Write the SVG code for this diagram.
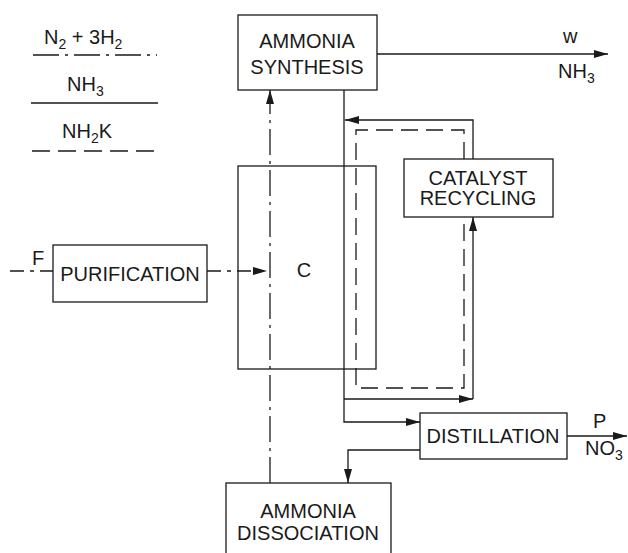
<svg xmlns="http://www.w3.org/2000/svg" width="628" height="553" viewBox="0 0 628 553">
<style>
  .box { fill: #fff; stroke: #1a1a1a; stroke-width: 1.3; }
  .ln { fill: none; stroke: #1a1a1a; stroke-width: 1.3; }
  .dd { stroke-dasharray: 26 6 3 6; }
  .dd2 { stroke-dasharray: 14 6 4 6; }
  .da { stroke-dasharray: 17 8; }
  text { font-family: "Liberation Sans", Arial, sans-serif; font-size: 20px; fill: #1a1a1a; }
  .mid { text-anchor: middle; }
  .sub { font-size: 14px; }
</style>
<defs>
  <marker id="ah" markerUnits="userSpaceOnUse" markerWidth="16" markerHeight="10" refX="14" refY="4" orient="auto">
    <path d="M0,0 L14,4 L0,8 z" fill="#1a1a1a" stroke="none"/>
  </marker>
</defs>

<g id="legend">
  <text x="44" y="44">N<tspan class="sub" dy="5">2</tspan><tspan dy="-5"> + 3H</tspan><tspan class="sub" dy="5">2</tspan></text>
  <line class="ln dd" x1="33" y1="55" x2="157" y2="55"/>
  <text x="67" y="91">NH<tspan class="sub" dy="5">3</tspan></text>
  <line class="ln" x1="31" y1="103" x2="158" y2="103"/>
  <text x="62" y="138">NH<tspan class="sub" dy="5">2</tspan><tspan dy="-5">K</tspan></text>
  <line class="ln" x1="32" y1="151" x2="157" y2="151" style="stroke-dasharray:18 8"/>
</g>

<g id="connectors">
  <path class="ln" d="M377,54 H608" marker-end="url(#ah)"/>
  <path class="ln" d="M344,90 V422 H420" marker-end="url(#ah)"/>
  <path class="ln" d="M344,399 H473" marker-end="url(#ah)"/>
  <path class="ln" d="M473,399 V217" marker-end="url(#ah)"/>
  <path class="ln" d="M473,159 V120 H345" marker-end="url(#ah)"/>
  <path class="ln da" d="M464,159 V130 H356 V388 H464 V217"/>
  <path class="ln" d="M567,436 H627" marker-end="url(#ah)"/>
  <path class="ln" d="M420,450 H348 V483" marker-end="url(#ah)"/>
  <path class="ln dd" d="M270,483 V90" marker-end="url(#ah)"/>
  <path class="ln dd2" d="M10,271 H53"/>
  <path class="ln dd2" d="M207,271 H267" marker-end="url(#ah)"/>
</g>

<g id="labels">
  <text x="563" y="43">w</text>
  <text x="558" y="78">NH<tspan class="sub" dy="5">3</tspan></text>
  <text x="593" y="428">P</text>
  <text x="585" y="455">NO<tspan class="sub" dy="5">3</tspan></text>
  <text x="32" y="265">F</text>
</g>

<g id="synthesis">
  <rect class="box" x="238" y="15" width="139" height="75"/>
  <text class="mid" x="307" y="48">AMMONIA</text>
  <text class="mid" x="307" y="74">SYNTHESIS</text>
</g>

<g id="catalyst">
  <rect class="box" x="404" y="159" width="149" height="58"/>
  <text class="mid" x="478" y="185">CATALYST</text>
  <text class="mid" x="478" y="205">RECYCLING</text>
</g>

<g id="column">
  <rect class="ln" x="238" y="166" width="138" height="203"/>
  <text class="mid" x="304" y="277">C</text>
</g>

<g id="purification">
  <rect class="box" x="53" y="245" width="154" height="57"/>
  <text class="mid" x="130" y="281">PURIFICATION</text>
</g>

<g id="distillation">
  <rect class="box" x="420" y="413" width="147" height="46"/>
  <text class="mid" x="493" y="443">DISTILLATION</text>
</g>

<g id="dissociation">
  <rect class="box" x="226" y="483" width="165" height="80"/>
  <text class="mid" x="308" y="518">AMMONIA</text>
  <text class="mid" x="308" y="540">DISSOCIATION</text>
</g>
</svg>
